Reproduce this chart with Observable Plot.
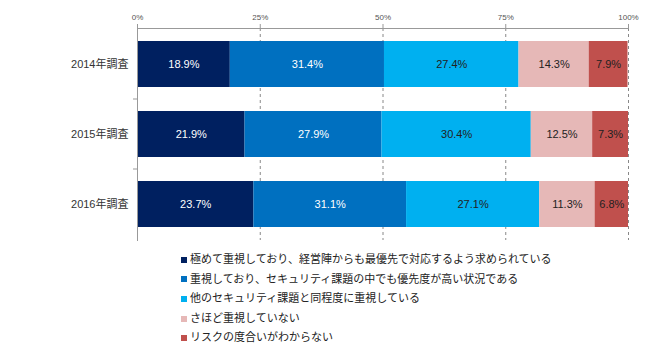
<!DOCTYPE html>
<html><head><meta charset="utf-8">
<script src="https://cdn.jsdelivr.net/npm/d3@7"></script>
<script src="https://cdn.jsdelivr.net/npm/@observablehq/plot@0.6"></script>
<style>
body{margin:0;background:#fff;font-family:"Liberation Sans","Noto Sans CJK JP",sans-serif;}
#legend{position:relative;margin-left:181px;margin-top:6px;font-size:11px;color:#222;}
#legend div{height:19.6px;line-height:19.6px;display:flex;align-items:center;}
#legend span.sw{display:inline-block;width:6px;height:6px;margin-right:3px;}
</style></head><body>
<div id="chart"></div>
<div id="legend"></div>
<script>
const years = ["2014年調査","2015年調査","2016年調査"];
const categories = ["極めて重視しており、経営陣からも最優先で対応するよう求められている","重視しており、セキュリティ課題の中でも優先度が高い状況である","他のセキュリティ課題と同程度に重視している","さほど重視していない","リスクの度合いがわからない"];
const colors = ["#002060","#0070c0","#00b0f0","#e6b8b7","#c0504d"];
const textColors = ["#ffffff","#ffffff","#222222","#222222","#222222"];
const v2014 = [18.9,31.4,27.4,14.3,7.9];
const v2015 = [21.9,27.9,30.4,12.5,7.3];
const v2016 = [23.7,31.1,27.1,11.3,6.8];
const xTicks = [0,25,50,75,100];

const series = [v2014,v2015,v2016];
const data = [];
years.forEach((y,i)=>categories.forEach((c,j)=>data.push({year:y,cat:c,ci:j,value:series[i][j]})));

const chart = Plot.plot({
  width:650, height:244,
  marginLeft:137, marginRight:22, marginTop:28, marginBottom:4,
  style:{fontFamily:'"Liberation Sans","Noto Sans CJK JP",sans-serif'},
  x:{domain:[0,100], label:null},
  y:{domain:years, paddingInner:0.34, paddingOuter:0.17, label:null},
  color:{domain:categories, range:colors},
  marks:[
    Plot.gridX(xTicks.slice(1),{stroke:"#888",strokeOpacity:1,strokeDasharray:"3,3"}),
    Plot.barX(data, Plot.stackX({x:"value", y:"year", fill:"cat", order:categories})),
    Plot.textX(data, Plot.stackX({x:"value", y:"year", z:"cat", order:categories, text:d=>d.value.toFixed(1)+"%", fill:d=>textColors[d.ci], fontSize:11})),
    Plot.axisX({anchor:"top", ticks:xTicks, tickFormat:d=>d+"%", tickSize:5, tickPadding:4, fontSize:8, color:"#555", stroke:"#999", label:null}),
    Plot.axisY({tickSize:0, tickPadding:9, fontSize:11, color:"#333", label:null}),
    Plot.frame({anchor:"top", stroke:"#999"}),
    Plot.frame({anchor:"left", stroke:"#999"})
  ]
});
document.getElementById("chart").appendChild(chart);

// small ticks between categories on the y axis
const ys = chart.scale("y");
const svg = d3.select(chart);
for (let i=1;i<years.length;i++){
  const gap = ys.apply(years[i]) - ys.apply(years[i-1]) - ys.bandwidth;
  const yy = ys.apply(years[i]) - gap/2;
  svg.append("line").attr("x1",133).attr("x2",137).attr("y1",yy).attr("y2",yy).attr("stroke","#999");
}

const lg = d3.select("#legend");
categories.forEach((c,j)=>{
  const row = lg.append("div");
  row.append("span").attr("class","sw").style("background",colors[j]);
  row.append("span").text(c);
});
</script>
</body></html>
